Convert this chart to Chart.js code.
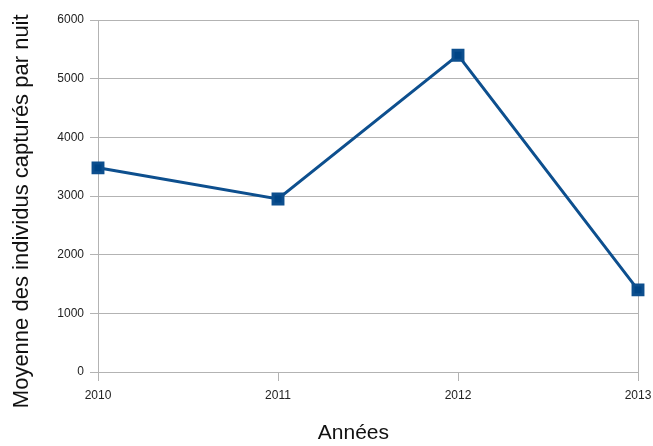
<!DOCTYPE html>
<html lang="fr">
<head>
  <meta charset="UTF-8" />
  <title>Moyenne des individus capturés par nuit</title>
  <script src="https://cdn.jsdelivr.net/npm/chart.js"></script>
  <style>
    html, body { margin: 0; padding: 0; background: #fff; }
    #wrap { width: 653px; height: 446px; }
  </style>
</head>
<body>
  <div id="wrap"><canvas id="chart"></canvas></div>
  <script>
    const years = ['2010', '2011', '2012', '2013'];
    const moyenne = [3480, 2950, 5400, 1400];
    const yTicks = [0, 1000, 2000, 3000, 4000, 5000, 6000];

    const gridGray = '#b3b3b3';
    const blue = '#004586';
    const nb = '\u00a0';

    new Chart(document.getElementById('chart'), {
      type: 'line',
      data: {
        labels: years,
        datasets: [{
          data: moyenne,
          borderColor: '#0d4f8e',
          backgroundColor: blue,
          borderWidth: 3,
          pointStyle: 'rect',
          pointRadius: 7,
          pointHoverRadius: 7,
          tension: 0
        }]
      },
      options: {
        responsive: true,
        maintainAspectRatio: false,
        animation: false,
        layout: { padding: { top: 20, right: 15, left: 0, bottom: 0 } },
        plugins: { legend: { display: false }, tooltip: { enabled: false } },
        scales: {
          x: {
            offset: false,
            grid: {
              color: c => (c.index === 0 || c.index === years.length - 1) ? gridGray : 'rgba(0,0,0,0)',
              tickColor: gridGray,
              tickLength: 9
            },
            border: { display: false },
            ticks: { color: '#222', font: { family: 'Liberation Sans', size: 12 }, padding: 7, maxRotation: 0 },
            // trailing spaces nudge the centred title left, like the original
            title: { display: true, text: 'Années' + nb.repeat(5), color: '#111', font: { family: 'Liberation Sans', size: 21 }, padding: { top: 7, bottom: 0 } },
            afterFit: s => { s.height = 74; s.paddingRight = 0; s.paddingLeft = 0; }
          },
          y: {
            min: 0, max: 6000,
            afterBuildTicks: s => { s.ticks = yTicks.map(v => ({ value: v })); },
            grid: { color: gridGray, tickColor: gridGray, tickLength: 8 },
            border: { display: false },
            ticks: { color: '#222', font: { family: 'Liberation Sans', size: 12 }, padding: 6, callback: v => String(v) },
            title: { display: true, text: 'Moyenne des individus capturés par nuit' + nb.repeat(5), color: '#111', font: { family: 'Liberation Sans', size: 22 }, padding: { top: 9, bottom: 6 } },
            afterFit: s => { s.width = 98; }
          }
        }
      }
    });
  </script>
</body>
</html>
